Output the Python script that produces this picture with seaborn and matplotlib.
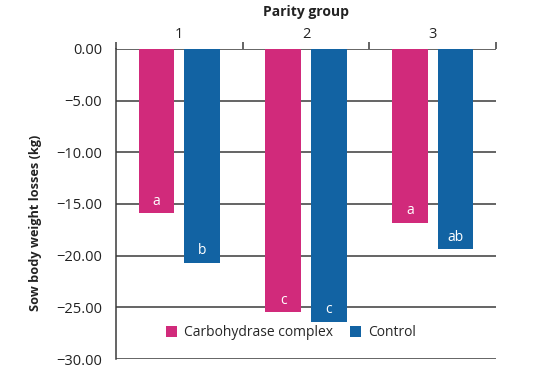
import matplotlib
matplotlib.use("Agg")
import matplotlib.pyplot as plt
import seaborn as sns
import pandas as pd
from matplotlib.ticker import FixedLocator

# data
parity = ["1", "2", "3"]
carbohydrase = [-15.9, -25.5, -16.8]
control = [-20.7, -26.4, -19.4]
letters_carb = ["a", "c", "a"]
letters_ctrl = ["b", "c", "ab"]
treatments = ["Carbohydrase complex", "Control"]

df = pd.DataFrame({
    "parity": parity * 2,
    "treatment": [treatments[0]] * 3 + [treatments[1]] * 3,
    "loss": carbohydrase + control,
    "letter": letters_carb + letters_ctrl,
})

sns.set_style("white")
plt.rcParams["font.family"] = ["Open Sans", "DejaVu Sans"]

pink = "#D12A7B"
blue = "#1263A3"
dark = "#3a3a3a"

fig = plt.figure(figsize=(5.6, 3.73), dpi=100)
ax = fig.add_axes([0.207, 0.0375, 0.679, 0.8315])

sns.barplot(data=df, x="parity", y="loss", hue="treatment", order=parity,
            hue_order=treatments, palette=[pink, blue], width=0.72, gap=0.22,
            saturation=1, errorbar=None, ax=ax, zorder=3, edgecolor="none")

# letters inside the bars
for cont, tr in zip(ax.containers, treatments):
    sub = df[df["treatment"] == tr].set_index("parity").loc[parity]
    for bar, val, let in zip(cont, sub["loss"], sub["letter"]):
        ax.text(bar.get_x() + bar.get_width() / 2, val + 1.15, let,
                ha="center", va="center", color="white", fontsize=10, zorder=4)

ax.set_ylim(-30, 0)
ax.set_xlim(-0.5, 2.5)
ax.set_yticks(range(0, -31, -5))
ax.set_yticklabels([f"{v:.2f}".replace("-", "\u2212") for v in range(0, -31, -5)],
                   fontsize=10.5)
ax.yaxis.grid(True, color=dark, lw=1.1, zorder=1)
ax.tick_params(axis="y", length=8, width=1.1, color=dark, pad=2, labelcolor="#222")

ax.xaxis.tick_top()
ax.xaxis.set_label_position("top")
ax.tick_params(axis="x", which="major", length=0, pad=5, labelsize=10.5, labelcolor="#222")
ax.xaxis.set_minor_locator(FixedLocator([-0.5, 0.5, 1.5, 2.5]))
ax.tick_params(axis="x", which="minor", length=5, width=1.1, color=dark, top=True, bottom=False)
ax.set_xlabel("Parity group", fontsize=10, fontweight="bold", labelpad=8, color="#222")
ax.set_ylabel("Sow body weight losses (kg)", fontsize=9.2, fontweight="bold", color="#222")
ax.yaxis.set_label_coords(-0.195, 0.44)

for side in ["right", "bottom", "top"]:
    ax.spines[side].set_visible(False)
ax.spines["left"].set_color(dark)
ax.spines["left"].set_linewidth(1.1)

ax.legend(loc="lower center", bbox_to_anchor=(0.46, 0.02), ncol=2, frameon=False,
          fontsize=10, handlelength=0.8, handleheight=0.8, handletextpad=0.5,
          columnspacing=1.2)

fig.savefig("out.png", dpi=100)
